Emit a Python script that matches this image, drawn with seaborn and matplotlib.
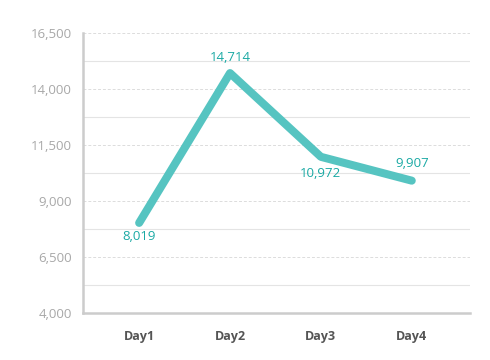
import matplotlib.pyplot as plt
import pandas as pd
import seaborn as sns
from matplotlib.ticker import FuncFormatter

days = ["Day1", "Day2", "Day3", "Day4"]
values = [8019, 14714, 10972, 9907]
label_side = ["below", "above", "below", "above"]
y_ticks = [4000, 6500, 9000, 11500, 14000, 16500]
y_minor = [5250, 7750, 10250, 12750, 15250]

df = pd.DataFrame({"day": range(len(days)), "value": values})

sns.set_style("white")
plt.rcParams["font.family"] = ["Open Sans", "DejaVu Sans"]

fig = plt.figure(figsize=(4.9, 3.6), dpi=100)
ax = fig.add_axes([0.169, 0.131, 0.79, 0.777])

sns.lineplot(
    data=df, x="day", y="value", ax=ax, color="#56c4c1",
    linewidth=5.8, solid_capstyle="round", solid_joinstyle="round",
)

offsets = [-10, 11, -12, 12]
for i, (v, dy) in enumerate(zip(values, offsets)):
    ax.annotate(f"{v:,}", (i, v), xytext=(0, dy), textcoords="offset points",
                ha="center", va="center", fontsize=9.5, color="#1aa9a4")

ax.set_ylim(4000, 16500)
ax.set_xlim(-0.62, 3.64)
ax.set_yticks(y_ticks)
ax.set_yticks(y_minor, minor=True)
ax.yaxis.set_major_formatter(FuncFormatter(lambda v, p: f"{int(v):,}"))
ax.set_xticks(range(len(days)))
ax.set_xticklabels(days)

ax.grid(True, which="major", axis="y", color="#dcdcdc", linestyle=(0, (3, 2)), linewidth=0.7)
ax.grid(True, which="minor", axis="y", color="#e4e4e4", linestyle="-", linewidth=0.8)
ax.grid(False, axis="x")
ax.set_axisbelow(True)

ax.tick_params(axis="both", which="both", length=0)
ax.tick_params(axis="y", labelsize=9.5, labelcolor="#a8a8a8", pad=8)
ax.tick_params(axis="x", labelsize=9, labelcolor="#555555", pad=12)
for lab in ax.get_xticklabels():
    lab.set_fontweight("bold")

for s in ["top", "right"]:
    ax.spines[s].set_visible(False)
for s in ["left", "bottom"]:
    ax.spines[s].set_color("#cccccc")
    ax.spines[s].set_linewidth(1.8)

ax.set_xlabel("")
ax.set_ylabel("")

fig.savefig("out.png", dpi=100)
